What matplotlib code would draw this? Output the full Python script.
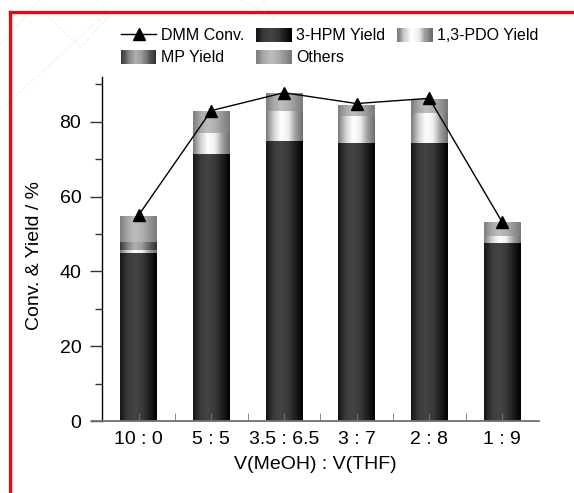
import numpy as np
import matplotlib
matplotlib.use("Agg")
import matplotlib.pyplot as plt
from matplotlib.colors import LinearSegmentedColormap
from matplotlib.patches import Rectangle
from matplotlib.lines import Line2D
from matplotlib.legend_handler import HandlerBase
from matplotlib.ticker import MultipleLocator, FixedLocator

plt.rcParams['font.family'] = ['Liberation Sans', 'DejaVu Sans']

# data
ratios = ['10 : 0', '5 : 5', '3.5 : 6.5', '3 : 7', '2 : 8', '1 : 9']
hpm_yield = [44.9, 71.4, 74.9, 74.3, 74.4, 47.7]
pdo_yield = [0.8, 5.7, 8.1, 7.3, 8.0, 1.8]
mp_yield = [2.2, 0.0, 0.0, 0.0, 0.0, 0.0]
others = [6.9, 5.8, 4.6, 2.9, 3.7, 3.5]
dmm_conv = [55.0, 83.0, 87.8, 84.9, 86.3, 53.3]

# horizontal shading of each series (left edge -> right edge)
cm_hpm = LinearSegmentedColormap.from_list('hpm', ['#151515', '#3a3a3a', '#444444', '#3a3a3a', '#1e1e1e', '#000000'])
cm_pdo = LinearSegmentedColormap.from_list('pdo', ['#7a7a7a', '#d0d0d0', '#ffffff', '#f0f0f0', '#a0a0a0', '#6e6e6e'])
cm_mp = LinearSegmentedColormap.from_list('mp', ['#3a3a3a', '#808080', '#b0b0b0', '#9a9a9a', '#606060', '#303030'])
cm_oth = LinearSegmentedColormap.from_list('oth', ['#7e7e7e', '#a8a8a8', '#bdbdbd', '#b0b0b0', '#969696', '#7a7a7a'])


class GradHandler(HandlerBase):
    def __init__(self, cmap, n=30):
        super().__init__()
        self.cmap = cmap
        self.n = n

    def create_artists(self, legend, orig_handle, xdescent, ydescent,
                       width, height, fontsize, trans):
        arts = []
        for i in range(self.n):
            r = Rectangle((-xdescent + width * i / self.n, -ydescent),
                          width / self.n * 1.1, height,
                          facecolor=self.cmap(i / (self.n - 1)),
                          edgecolor='none', transform=trans)
            arts.append(r)
        return arts


fig = plt.figure(figsize=(5.74, 4.93), dpi=100)
W, H = 574, 493
ax = fig.add_axes([92 / W, 1 - 421 / H, (539 - 92) / W, (421 - 77) / H])

x = np.arange(len(ratios))
bw = 0.5
grad = np.linspace(0, 1, 64).reshape(1, -1)

bottom = np.zeros(len(x))
for vals, cm in [(hpm_yield, cm_hpm), (pdo_yield, cm_pdo), (mp_yield, cm_mp), (others, cm_oth)]:
    for xi, b, v in zip(x, bottom, vals):
        if v <= 0:
            continue
        ax.imshow(grad, cmap=cm, aspect='auto', interpolation='bicubic',
                  extent=(xi - bw / 2, xi + bw / 2, b, b + v), zorder=1)
    bottom = bottom + np.array(vals)

ax.plot(x, dmm_conv, color='black', lw=1.0, marker='^', markersize=9, zorder=3)

ax.set_xlim(-0.64, 5.51)
ax.set_ylim(0, 92)

for s in ['top', 'right']:
    ax.spines[s].set_visible(False)
ax.spines['left'].set_position(('data', -0.5))
ax.spines['left'].set_linewidth(1.0)
ax.spines['bottom'].set_color('#707070')
ax.spines['bottom'].set_linewidth(1.3)

ax.set_xticks(x)
ax.set_xticklabels(ratios)
ax.xaxis.set_minor_locator(FixedLocator(x[:-1] + 0.5))
ax.tick_params(axis='x', which='major', direction='in', length=6, color='#707070',
               labelsize=14, pad=7)
ax.tick_params(axis='x', which='minor', direction='in', length=6, color='#707070')

ax.yaxis.set_major_locator(MultipleLocator(20))
ax.yaxis.set_minor_locator(MultipleLocator(10))
ax.tick_params(axis='y', which='major', direction='out', length=9, width=1,
               color='#333333', labelsize=14, pad=6)
ax.tick_params(axis='y', which='minor', direction='out', length=5, width=1, color='#333333')

ax.set_xlabel('V(MeOH) : V(THF)', fontsize=14, labelpad=6)
ax.set_ylabel('Conv. & Yield / %', fontsize=14)
ax.yaxis.set_label_coords(43 / W, 1 - 255 / H, transform=fig.transFigure)

# legend
h_line = Line2D([], [], color='black', lw=1.0, marker='^', markersize=9)
h_hpm, h_pdo, h_mp, h_oth = (Rectangle((0, 0), 1, 1) for _ in range(4))
handles = [h_line, h_mp, h_hpm, h_oth, h_pdo]
labels = ['DMM Conv.', 'MP Yield', '3-HPM Yield', 'Others', '1,3-PDO Yield']
fig.legend(handles, labels, ncol=3, loc='upper left',
           bbox_to_anchor=(121 / W, 1 - 28 / H), bbox_transform=fig.transFigure,
           frameon=False, fontsize=11.5, borderpad=0, borderaxespad=0,
           handlelength=2.2, handleheight=0.95, handletextpad=0.3,
           columnspacing=0.75, labelspacing=0.4, numpoints=1,
           handler_map={h_hpm: GradHandler(cm_hpm), h_pdo: GradHandler(cm_pdo),
                        h_mp: GradHandler(cm_mp), h_oth: GradHandler(cm_oth)})

# faint background lines and red frame
for xs, ys in [([40, 0], [0, 45]), ([45, 80, 110, 95], [12, 48, 15, 0]),
               ([106, 0], [14, 110]), ([240, 275, 262], [0, 18, 0])]:
    fig.add_artist(Line2D(np.array(xs) / W, 1 - np.array(ys) / H, color='#eefcee',
                          lw=1.0, transform=fig.transFigure, zorder=0))
fig.add_artist(Line2D([10 / W, 10 / W], [0, 1 - 12 / H], color='red', lw=2.4,
                      transform=fig.transFigure))
fig.add_artist(Line2D([10 / W, 1], [1 - 12 / H, 1 - 12 / H], color='red', lw=2.4,
                      transform=fig.transFigure))

fig.savefig('out.png', dpi=100)
